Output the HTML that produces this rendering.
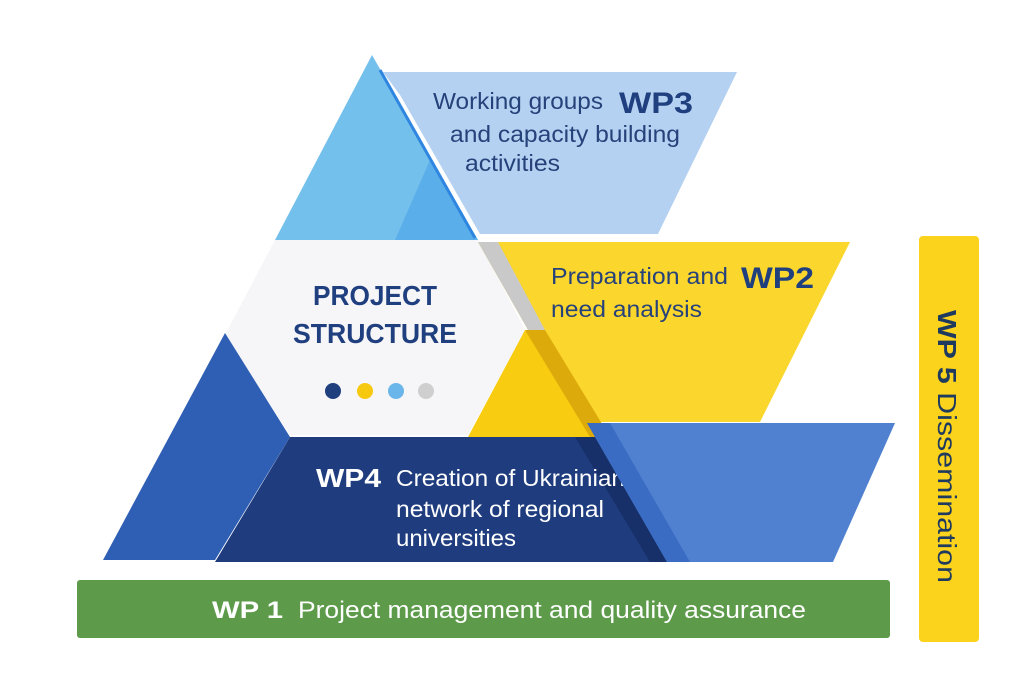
<!DOCTYPE html>
<html><head><meta charset="utf-8"><style>
html,body{margin:0;padding:0;background:#fff;}
body{width:1024px;height:683px;overflow:hidden;position:relative;font-family:"Liberation Sans",sans-serif;}
svg{position:absolute;left:0;top:0;}
</style></head><body>
<svg width="1024" height="683" viewBox="0 0 1024 683">
  <polygon points="372,55 478,240 275,240" fill="#74c0ec"/>
  <polygon points="430,160 478,240 395,240" fill="#5aaee9"/>
  <polygon points="383,72 737,72 658,234 480,234 400,95" fill="#aecdf0" opacity="0.92"/>
  <line x1="380" y1="70" x2="475" y2="238" stroke="#2f86e0" stroke-width="3"/>
  <polygon points="275,240 478,240 525,330 468,435 290,435 225,335" fill="#f6f5f8"/>
  <polygon points="478,242 850,242 760,422 590,422 528,330" fill="#fbd62d"/>
  <polygon points="478,242 498,242 545,330 528,330" fill="#c9c9c9"/>
  <polygon points="525,330 590,422 590,437 468,437" fill="#f8cc10"/>
  <polygon points="525,330 545,330 610,437 590,437" fill="#dcaa0a"/>
  <polygon points="225,333 290,437 215,560 103,560" fill="#2f5fb5"/>
  <polygon points="290,437 590,437 665,562 215,562" fill="#1f3d7e"/>
  <polygon points="575,437 600,437 680,562 650,562" fill="#17306a"/>
  <text x="316" y="487" font-size="26" font-weight="bold" fill="#ffffff" textLength="65" lengthAdjust="spacingAndGlyphs">WP4</text>
  <text x="396" y="486" font-size="23" fill="#ffffff" textLength="229" lengthAdjust="spacingAndGlyphs">Creation of Ukrainian</text>
  <text x="396" y="517" font-size="23" fill="#ffffff" textLength="208" lengthAdjust="spacingAndGlyphs">network of regional</text>
  <text x="396" y="546" font-size="23" fill="#ffffff" textLength="120" lengthAdjust="spacingAndGlyphs">universities</text>
  <polygon points="587,423 895,423 833,562 667,562" fill="#5080d0"/>
  <polygon points="587,423 610,423 690,562 667,562" fill="#3a6cc3"/>
  <circle cx="333" cy="391" r="8" fill="#1f3f7f"/>
  <circle cx="365" cy="391" r="8" fill="#f7c90e"/>
  <circle cx="396" cy="391" r="8" fill="#6ab5ea"/>
  <circle cx="426" cy="391" r="8" fill="#cfcfcf"/>
  <text x="375" y="305" text-anchor="middle" font-size="28" font-weight="bold" fill="#1f3f7f" textLength="124" lengthAdjust="spacingAndGlyphs">PROJECT</text>
  <text x="375" y="343" text-anchor="middle" font-size="28" font-weight="bold" fill="#1f3f7f" textLength="164" lengthAdjust="spacingAndGlyphs">STRUCTURE</text>
  <text x="433" y="109" font-size="23" fill="#26427a" textLength="170" lengthAdjust="spacingAndGlyphs">Working groups</text>
  <text x="619" y="113" font-size="30" font-weight="bold" fill="#1f3f7f" textLength="74" lengthAdjust="spacingAndGlyphs">WP3</text>
  <text x="450" y="142" font-size="23" fill="#26427a" textLength="230" lengthAdjust="spacingAndGlyphs">and capacity building</text>
  <text x="465" y="171" font-size="23" fill="#26427a" textLength="95" lengthAdjust="spacingAndGlyphs">activities</text>
  <text x="551" y="284" font-size="23" fill="#26427a" textLength="177" lengthAdjust="spacingAndGlyphs">Preparation and</text>
  <text x="741" y="288" font-size="30" font-weight="bold" fill="#1f3f7f" textLength="73" lengthAdjust="spacingAndGlyphs">WP2</text>
  <text x="551" y="317" font-size="23" fill="#26427a" textLength="151" lengthAdjust="spacingAndGlyphs">need analysis</text>
  <rect x="77" y="580" width="813" height="58" rx="3" fill="#5d9b4b"/>
  <text x="212" y="618" font-size="24" font-weight="bold" fill="#ffffff" textLength="71" lengthAdjust="spacingAndGlyphs">WP 1</text>
  <text x="298" y="618" font-size="24" fill="#ffffff" textLength="508" lengthAdjust="spacingAndGlyphs">Project management and quality assurance</text>
  <rect x="919" y="236" width="60" height="406" rx="4" fill="#fbd21c"/>
  <text transform="translate(938,310) rotate(90)" font-size="26" fill="#1f3a5f" textLength="273" lengthAdjust="spacingAndGlyphs"><tspan font-weight="bold">WP 5</tspan> Dissemination</text>
</svg>
</body></html>
